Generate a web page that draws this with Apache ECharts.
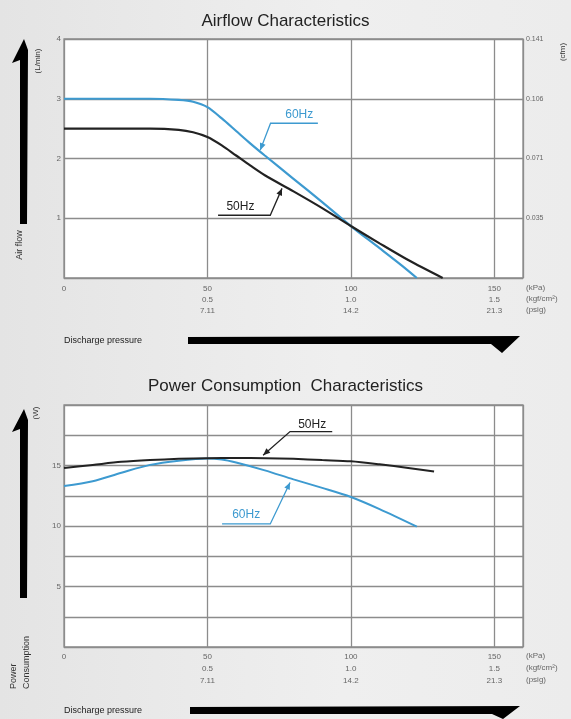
<!DOCTYPE html>
<html><head><meta charset="utf-8">
<script src="https://cdn.jsdelivr.net/npm/echarts@6/dist/echarts.min.js"></script>
<style>
html,body{margin:0;padding:0;background:linear-gradient(90deg,#e4e4e4,#efefef 60%,#ececec);}
#c{width:571px;height:719px;}
</style></head><body><div id="c"></div>
<script>
// ---- data ----
const pressureTicks = [0, 50, 100, 150];
const kgfLabels = {50: '0.5', 100: '1.0', 150: '1.5'};
const psigLabels = {50: '7.11', 100: '14.2', 150: '21.3'};
const cfmLabels = {1: '0.035', 2: '0.071', 3: '0.106', 4: '0.141'};

const airflow60 = [[0,3.0],[10,3.0],[20,3.0],[30,3.0],[40,2.98],[45,2.95],[50,2.86],[55,2.67],[60,2.46],[65,2.25],[70,2.05],[80,1.66],[90,1.27],[100,0.87],[110,0.5],[118,0.2],[123,0]];
const airflow50 = [[0,2.5],[10,2.5],[20,2.5],[30,2.5],[40,2.48],[45,2.44],[50,2.36],[55,2.22],[60,2.05],[65,1.88],[70,1.72],[80,1.45],[90,1.17],[100,0.87],[110,0.58],[120,0.3],[132,0]];
const power60 = [[0,13.3],[10,13.7],[20,14.4],[30,15.05],[40,15.4],[50,15.58],[55,15.5],[60,15.25],[70,14.6],[80,13.85],[90,13.15],[100,12.4],[110,11.4],[123,9.95]];
const power50 = [[0,14.8],[10,15.05],[20,15.3],[30,15.45],[40,15.55],[50,15.6],[60,15.62],[70,15.6],[80,15.55],[90,15.45],[100,15.35],[110,15.1],[120,14.8],[129,14.5]];

// annotation anchors (data space): text center, underline start/end, arrow tip
const notes = [
  {grid:0, text:'60Hz', color:'#3d9ad0', c:[82,2.73], u0:[72,2.59], u1:[88.5,2.59], tip:[68.4,2.14]},
  {grid:0, text:'50Hz', color:'#222', c:[61.5,1.19], u0:[71.9,1.05], u1:[53.7,1.05], tip:[76,1.5]},
  {grid:1, text:'50Hz', color:'#222', c:[86.5,18.35], u0:[78.8,17.8], u1:[93.5,17.8], tip:[69.4,15.85]},
  {grid:1, text:'60Hz', color:'#3d9ad0', c:[63.5,10.9], u0:[71.9,10.17], u1:[55.1,10.17], tip:[78.8,13.6]}
];

const BLUE = '#3d9ad0', BLACK = '#222', GRID = '#8c8c8c', LBL = '#666';
const font = 'Liberation Sans, Arial, sans-serif';

function xAxisCfg(gi){
  return {
    gridIndex: gi, type:'value', min:0, max:160, interval:50,
    axisLine:{show:false}, axisTick:{show:false},
    splitLine:{show:true, lineStyle:{color:GRID, width:1.3}},
    axisLabel:{show:true, showMaxLabel:false, color:LBL, fontSize:8, fontFamily:font, lineHeight: gi===0?11:12, margin: gi===0?5:4,
      formatter: v => v===0 ? '0' : (pressureTicks.includes(v) ? v + '\n' + kgfLabels[v] + '\n' + psigLabels[v] : '')},
    name:'(kPa)\n(kgf/cm²)\n(psig)', nameLocation:'end', nameGap:3,
    nameTextStyle:{color:LBL, fontSize:8, fontFamily:font, align:'left', verticalAlign:'top', lineHeight: gi===0?11:12, padding:[gi===0?4:3,0,0,0]}
  };
}

const chart = echarts.init(document.getElementById('c'), null, {renderer:'canvas'});
const lineCommon = {type:'line', smooth:0.3, showSymbol:false};
const option = {
  animation:false,
  title:[
    {text:'Airflow Characteristics', left:'center', top:8, textStyle:{fontSize:17, fontWeight:'normal', color:'#222', fontFamily:font}},
    {text:'Power Consumption  Characteristics', left:'center', top:373, textStyle:{fontSize:17, fontWeight:'normal', color:'#222', fontFamily:font}}
  ],
  grid:[
    {left:64, right:48, top:39, height:239, show:true, backgroundColor:'#fff', borderColor:GRID, borderWidth:1.3},
    {left:64, right:48, top:405, height:242, show:true, backgroundColor:'#fff', borderColor:GRID, borderWidth:1.3}
  ],
  xAxis:[xAxisCfg(0), xAxisCfg(1)],
  yAxis:[
    {gridIndex:0, type:'value', min:0, max:4, interval:1, axisLine:{show:false}, axisTick:{show:false},
     splitLine:{show:true, lineStyle:{color:GRID, width:1.3}},
     axisLabel:{color:LBL, fontSize:8, fontFamily:font, margin:3, formatter: v => v===0 ? '' : String(v)}},
    {gridIndex:0, type:'value', min:0, max:4, interval:1, position:'right', axisLine:{show:false}, axisTick:{show:false},
     splitLine:{show:false},
     axisLabel:{color:LBL, fontSize:7, fontFamily:font, margin:3, formatter: v => cfmLabels[v] || ''}},
    {gridIndex:1, type:'value', min:0, max:20, interval:2.5, axisLine:{show:false}, axisTick:{show:false},
     splitLine:{show:true, lineStyle:{color:GRID, width:1.3}},
     axisLabel:{color:LBL, fontSize:8, fontFamily:font, margin:3, formatter: v => (v>0 && v<20 && v%5===0) ? String(v) : ''}}
  ],
  series:[
    Object.assign({xAxisIndex:0, yAxisIndex:0, data:airflow60, lineStyle:{color:BLUE, width:2.2}, z:3}, lineCommon),
    Object.assign({xAxisIndex:0, yAxisIndex:0, data:airflow50, lineStyle:{color:BLACK, width:2.2}, z:4}, lineCommon),
    Object.assign({xAxisIndex:1, yAxisIndex:2, data:power60, lineStyle:{color:BLUE, width:2}, z:3}, lineCommon),
    Object.assign({xAxisIndex:1, yAxisIndex:2, data:power50, lineStyle:{color:BLACK, width:2}, z:4}, lineCommon)
  ]
};
chart.setOption(option);

// ---- decorations ----
const g = [];
function rtext(x, y, t, size, align){
  g.push({type:'text', x:x, y:y, rotation:Math.PI/2, style:{text:t, fill:'#333', font:size+'px '+font, align:align||'center', verticalAlign:'middle'}});
}
// vertical arrows
g.push({type:'polygon', shape:{points:[[24,39],[28,50],[27,224],[20,224],[20,60],[12,63]]}, style:{fill:'#000'}});
g.push({type:'polygon', shape:{points:[[24,409],[28,420],[27,598],[20,598],[20,429],[12,432]]}, style:{fill:'#000'}});
// horizontal arrows
g.push({type:'polygon', shape:{points:[[188,337],[520,336],[502,353],[491,344],[188,344]]}, style:{fill:'#000'}});
g.push({type:'polygon', shape:{points:[[190,707],[520,706],[503,719],[492,714],[190,714]]}, style:{fill:'#000'}});
g.push({type:'text', x:64, y:341, style:{text:'Discharge pressure', fill:'#222', font:'9px '+font, verticalAlign:'middle'}});
g.push({type:'text', x:64, y:711, style:{text:'Discharge pressure', fill:'#222', font:'9px '+font, verticalAlign:'middle'}});
rtext(38, 61, '(L/min)', 8);
rtext(20, 245, 'Air flow', 9);
rtext(563, 52, '(cfm)', 8);
rtext(36, 413, '(W)', 8);
rtext(14, 689, 'Power', 9, 'left');
rtext(27, 689, 'Consumption', 9, 'left');

notes.forEach(n => {
  const gi = {gridIndex:n.grid};
  const c = chart.convertToPixel(gi, n.c);
  const u0 = chart.convertToPixel(gi, n.u0);
  const u1 = chart.convertToPixel(gi, n.u1);
  const tp = chart.convertToPixel(gi, n.tip);
  g.push({type:'text', x:c[0], y:c[1], style:{text:n.text, fill:n.color, font:'12px '+font, align:'center', verticalAlign:'middle'}, z:10});
  g.push({type:'polyline', shape:{points:[u1, u0, tp]}, style:{stroke:n.color, lineWidth:1.3, fill:null}, z:10});
  const dx = tp[0]-u0[0], dy = tp[1]-u0[1], L = Math.hypot(dx,dy), ux = dx/L, uy = dy/L;
  const bx = tp[0]-ux*7, by = tp[1]-uy*7;
  g.push({type:'polygon', shape:{points:[tp, [bx-uy*3, by+ux*3], [bx+uy*3, by-ux*3]]}, style:{fill:n.color}, z:10});
});
chart.setOption({graphic:g});
</script></body></html>
